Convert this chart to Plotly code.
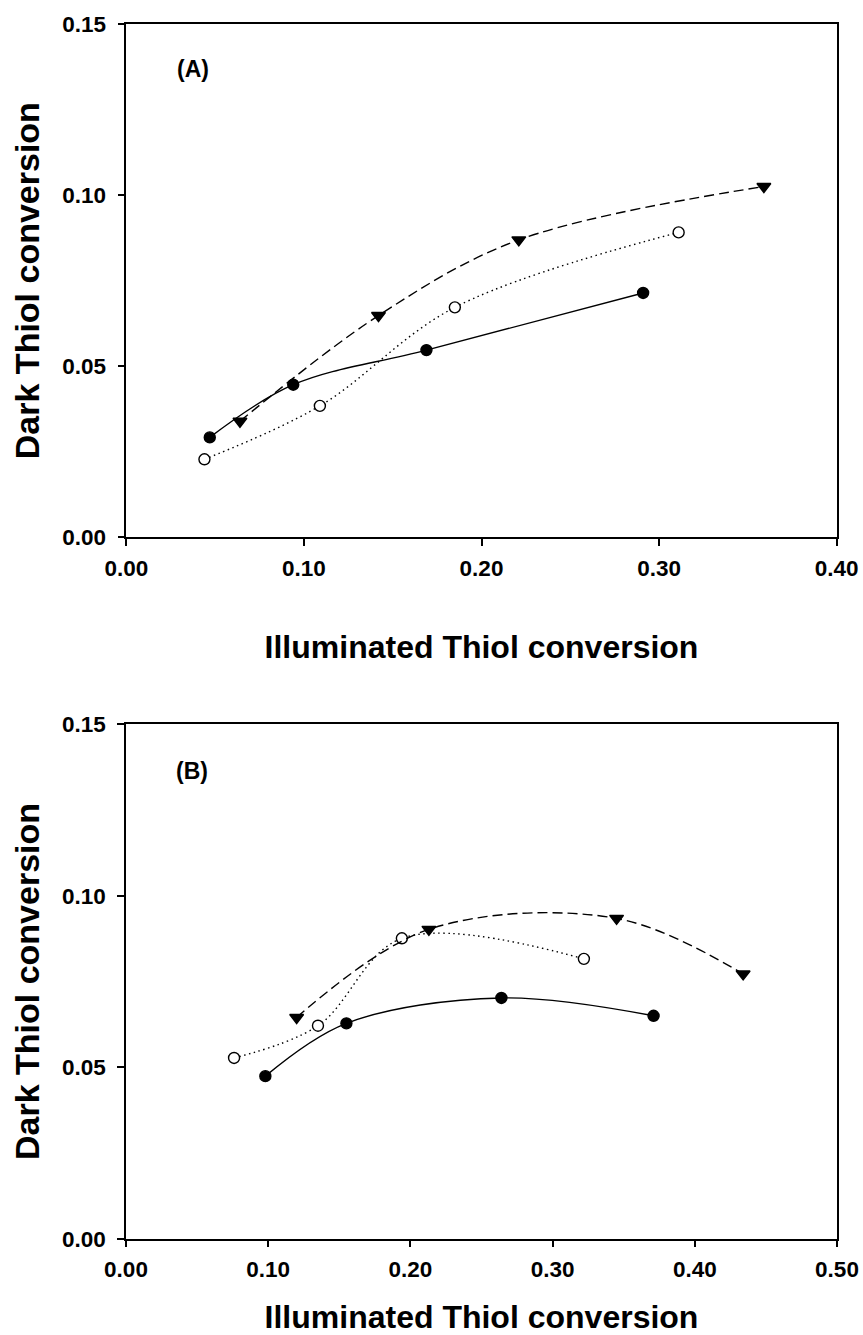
import plotly.graph_objects as go

# ---- Panel A data ----
a_fill_x = [0.047, 0.094, 0.169, 0.291]
a_fill_y = [0.0292, 0.0446, 0.0547, 0.0714]
a_open_x = [0.044, 0.109, 0.185, 0.311]
a_open_y = [0.0228, 0.0384, 0.0672, 0.0891]
a_tri_x = [0.064, 0.142, 0.221, 0.359]
a_tri_y = [0.0339, 0.0648, 0.0869, 0.1025]

# ---- Panel B data ----
b_fill_x = [0.098, 0.155, 0.264, 0.371]
b_fill_y = [0.0474, 0.0628, 0.0702, 0.0650]
b_open_x = [0.076, 0.135, 0.194, 0.322]
b_open_y = [0.0527, 0.0621, 0.0876, 0.0816]
b_tri_x = [0.120, 0.213, 0.345, 0.434]
b_tri_y = [0.0645, 0.0902, 0.0934, 0.0772]

y_ticks = [0.00, 0.05, 0.10, 0.15]
a_x_ticks = [0.00, 0.10, 0.20, 0.30, 0.40]
b_x_ticks = [0.00, 0.10, 0.20, 0.30, 0.40, 0.50]

FONT = "Liberation Sans, Arial, sans-serif"
W, H = 863, 1335

fig = go.Figure()


def add_series(x, y, xa, ya, dash, symbol, fill, size):
    fig.add_trace(go.Scatter(
        x=x, y=y, xaxis=xa, yaxis=ya, mode="lines+markers",
        line=dict(color="black", width=1.4, dash=dash, shape="spline", smoothing=1.0),
        marker=dict(symbol=symbol, size=size,
                    color="black" if fill else "white",
                    line=dict(color="black", width=1.4)),
        showlegend=False, cliponaxis=False,
    ))


add_series(a_fill_x, a_fill_y, "x", "y", "solid", "circle", True, 11)
add_series(a_open_x, a_open_y, "x", "y", "1.5px,3.5px", "circle", False, 11)
add_series(a_tri_x, a_tri_y, "x", "y", "10px,5px", "triangle-down", True, 12)

add_series(b_fill_x, b_fill_y, "x2", "y2", "solid", "circle", True, 11)
add_series(b_open_x, b_open_y, "x2", "y2", "1.5px,3.5px", "circle", False, 11)
add_series(b_tri_x, b_tri_y, "x2", "y2", "10px,5px", "triangle-down", True, 12)

tick_font = dict(family=FONT, size=22.5, color="black", weight="bold")
xtitle_font = dict(family=FONT, size=32, color="black", weight="bold")
ytitle_font = dict(family=FONT, size=34, color="black", weight="bold")

axis_common = dict(
    showgrid=False, zeroline=False, showline=True, linecolor="black", linewidth=1.5,
    mirror=True, ticks="outside", ticklen=7, tickwidth=1.5, tickcolor="black",
    tickfont=tick_font, tickformat=".2f", automargin=False,
)


def px_x(p):
    return p / W


def px_y(p):
    return 1 - p / H


fig.update_layout(
    width=W, height=H,
    margin=dict(l=0, r=0, t=0, b=0, pad=0, autoexpand=False),
    paper_bgcolor="white", plot_bgcolor="white",
    xaxis=dict(axis_common, domain=[px_x(126.3), px_x(836.7)], range=[0, 0.40],
               tickvals=a_x_ticks, anchor="y", ticklabelstandoff=3,
               title=dict(text="Illuminated Thiol conversion", font=xtitle_font, standoff=56)),
    yaxis=dict(axis_common, domain=[px_y(537.3), px_y(24)], range=[0, 0.15],
               tickvals=y_ticks, anchor="x", ticklabelstandoff=7,
               title=dict(text="Dark Thiol conversion", font=ytitle_font, standoff=12)),
    xaxis2=dict(axis_common, domain=[px_x(126), px_x(837)], range=[0, 0.50],
                tickvals=b_x_ticks, anchor="y2", ticklabelstandoff=3,
                title=dict(text="Illuminated Thiol conversion", font=xtitle_font, standoff=33)),
    yaxis2=dict(axis_common, domain=[px_y(1238.7), px_y(724.3)], range=[0, 0.15],
                tickvals=y_ticks, anchor="x2", ticklabelstandoff=7,
                title=dict(text="Dark Thiol conversion", font=ytitle_font, standoff=12)),
    annotations=[
        dict(text="(A)", x=0.0376, y=0.1369, xref="x", yref="y", showarrow=False,
             font=dict(family=FONT, size=23, color="black", weight="bold")),
        dict(text="(B)", x=0.0464, y=0.1364, xref="x2", yref="y2", showarrow=False,
             font=dict(family=FONT, size=23, color="black", weight="bold")),
    ],
)

fig.write_html("out.html")
